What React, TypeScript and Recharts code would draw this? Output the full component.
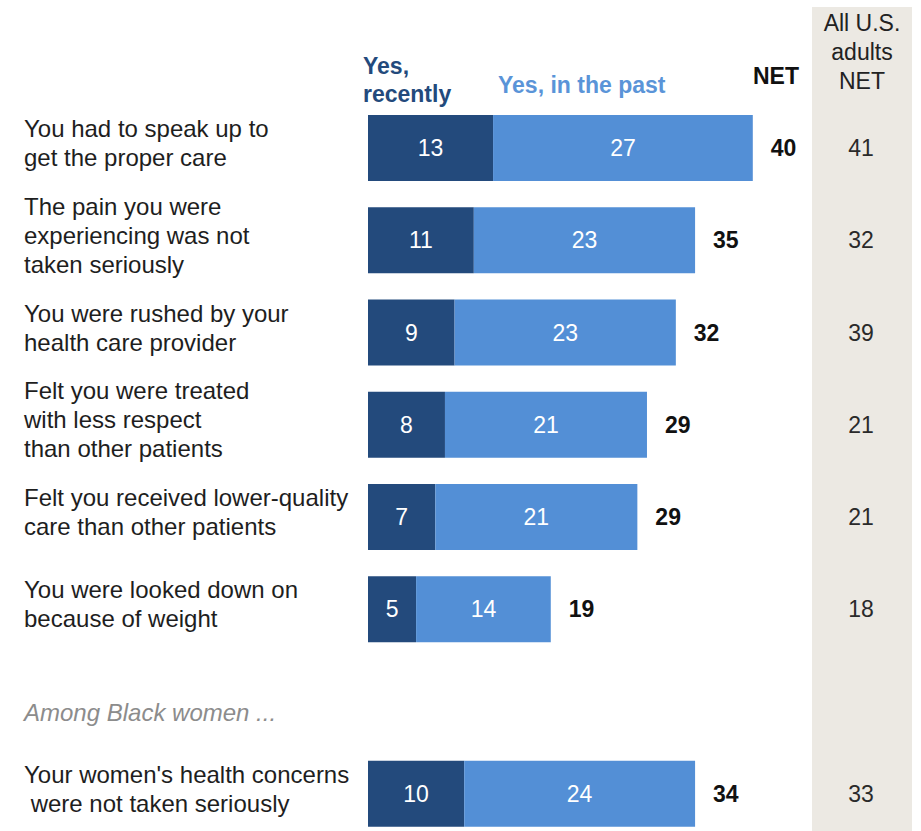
import { BarChart, Bar, XAxis, YAxis, LabelList } from "recharts";

const categories = [
  "You had to speak up to\nget the proper care",
  "The pain you were\nexperiencing was not\ntaken seriously",
  "You were rushed by your\nhealth care provider",
  "Felt you were treated\nwith less respect\nthan other patients",
  "Felt you received lower-quality\ncare than other patients",
  "You were looked down on\nbecause of weight",
  "Among Black women ...",
  "Your women's health concerns\n were not taken seriously",
];
const recently = [13, 11, 9, 8, 7, 5, null, 10];
const past = [27, 23, 23, 21, 21, 14, null, 24];
const net = [40, 35, 32, 29, 29, 19, null, 34];
const allAdultsNet = [41, 32, 39, 21, 21, 18, null, 33];

const data = categories.map((label, i) => ({
  label,
  recently: recently[i],
  past: past[i],
  net: net[i],
  allNet: allAdultsNet[i],
}));

const FONT = '"Liberation Sans", Arial, sans-serif';
const DARK = "#234a7c";
const LIGHT = "#538fd6";
const LINE = 29;

function CategoryTick(props: any) {
  const { y, payload, index } = props;
  const lines = String(payload.value).split("\n");
  const isSubhead = recently[index] == null;
  if (isSubhead) {
    return (
      <text x={24} y={y + 11} dy="0.35em" fontFamily={FONT} fontSize={24}
        fontStyle="italic" fill="#8c8c8c">
        {payload.value}
      </text>
    );
  }
  const first = y - 5 - ((lines.length - 1) * LINE) / 2;
  return (
    <text x={24} y={first} dy="0.35em" fontFamily={FONT} fontSize={24}
      fill="#1e1e1e" style={{ whiteSpace: "pre" }}>
      {lines.map((l, i) => (
        <tspan key={i} x={24} y={first + i * LINE} dy="0.35em">{l}</tspan>
      ))}
    </text>
  );
}

function InBar(props: any) {
  const { x, y, width, height, value } = props;
  if (value == null) return null;
  return (
    <text x={Number(x) + Number(width) / 2} y={Number(y) + Number(height) / 2}
      dy="0.35em" textAnchor="middle" fontFamily={FONT} fontSize={23} fill="#fff">
      {value}
    </text>
  );
}

function NetLabel(props: any) {
  const { x, y, width, height, value } = props;
  if (value == null) return null;
  return (
    <text x={Number(x) + Number(width) + 18} y={Number(y) + Number(height) / 2}
      dy="0.35em" fontFamily={FONT} fontSize={23} fontWeight="bold" fill="#111">
      {value}
    </text>
  );
}

function AllNetLabel(props: any) {
  const { y, height, value } = props;
  if (value == null) return null;
  return (
    <text x={861} y={Number(y) + Number(height) / 2} dy="0.35em"
      textAnchor="middle" fontFamily={FONT} fontSize={23} fill="#2a2a2a">
      {value}
    </text>
  );
}

const head: React.CSSProperties = {
  position: "absolute",
  fontFamily: FONT,
  fontSize: 23,
  lineHeight: "29px",
  whiteSpace: "pre",
};

export default function App() {
  return (
    <div style={{ position: "absolute", left: 0, top: 0, width: 921, height: 831, overflow: "hidden", background: "#fff" }}>
      {/* grey column behind the all-adults numbers */}
      <div style={{ position: "absolute", left: 812, top: 7, width: 100, height: 840, background: "#ece9e3" }} />

      <div style={{ ...head, left: 363, top: 52, lineHeight: "28px", fontWeight: "bold", color: DARK }}>
        {"Yes,\nrecently"}
      </div>
      <div style={{ ...head, left: 498, top: 71, fontWeight: "bold", color: "#5a94d8" }}>
        Yes, in the past
      </div>
      <div style={{ ...head, left: 753, top: 61.5, fontWeight: "bold", color: "#111" }}>
        NET
      </div>
      <div style={{ ...head, left: 812, top: 9, width: 100, textAlign: "center", color: "#222" }}>
        {"All U.S.\nadults\nNET"}
      </div>

      <div style={{ position: "absolute", left: 0, top: 0 }}>
        <BarChart width={921} height={850} data={data} layout="vertical"
          margin={{ top: 102, right: 72, bottom: 10, left: 0 }}>
          <XAxis type="number" hide domain={[0, 50]} />
          <YAxis type="category" dataKey="label" width={368} axisLine={false}
            tickLine={false} interval={0} tick={<CategoryTick />} />
          <Bar dataKey="recently" stackId="a" fill={DARK} barSize={66} isAnimationActive={false}>
            <LabelList dataKey="recently" content={<InBar />} />
          </Bar>
          <Bar dataKey="past" stackId="a" fill={LIGHT} barSize={66} isAnimationActive={false}>
            <LabelList dataKey="past" content={<InBar />} />
            <LabelList dataKey="net" content={<NetLabel />} />
            <LabelList dataKey="allNet" content={<AllNetLabel />} />
          </Bar>
        </BarChart>
      </div>
    </div>
  );
}
